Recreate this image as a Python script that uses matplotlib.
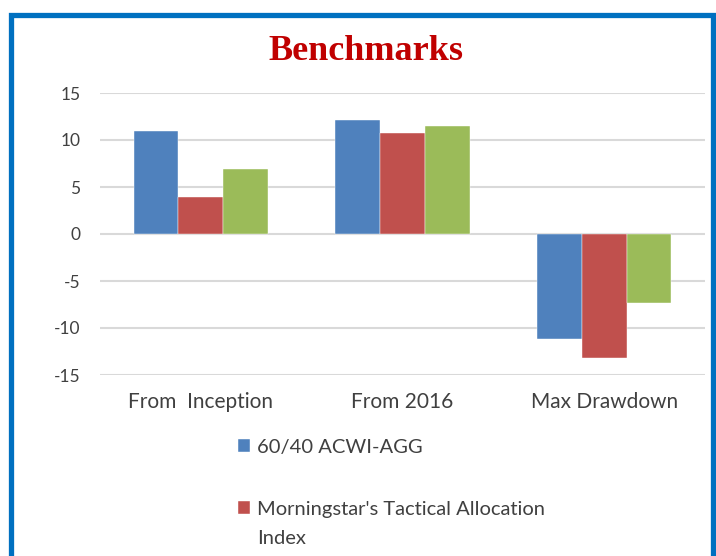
import numpy as np
import matplotlib.pyplot as plt
from matplotlib.patches import Rectangle

# data
categories = ["From  Inception", "From 2016", "Max Drawdown"]
series_names = ["60/40 ACWI-AGG",
                "Morningstar's Tactical Allocation\nIndex",
                "_nolegend_"]  # third legend entry is cut off in the original
acwi_agg = [11.0, 12.1, -11.2]
tactical = [3.9, 10.75, -13.2]
moderate = [6.95, 11.5, -7.3]
yticks = [-15, -10, -5, 0, 5, 10, 15]

colors = ["#4F81BD", "#C0504D", "#9BBB59"]

fig = plt.figure(figsize=(7.16, 5.56), dpi=100)
ax = fig.add_axes([100 / 716, 1 - 375 / 556, 605 / 716, 282 / 556])

x = np.arange(len(categories))
width = 0.222
for i, vals in enumerate([acwi_agg, tactical, moderate]):
    ax.bar(x + (i - 1) * width, vals, width, color=colors[i],
           label=series_names[i], zorder=3, edgecolor="white", linewidth=0.3)

ax.set_xlim(-0.5, 2.5)
ax.set_ylim(-15, 15)
ax.set_yticks(yticks)
ax.set_yticklabels([str(v) for v in yticks])
ax.set_xticks(x)
ax.set_xticklabels(categories)
ax.grid(axis="y", color="#D9D9D9", linewidth=1.5, zorder=0)
for s in ax.spines.values():
    s.set_visible(False)
ax.tick_params(length=0, colors="#404040", labelsize=15, labelfontfamily="Lato")
ax.tick_params(axis="y", pad=14, labelsize=12.5)
ax.tick_params(axis="x", pad=12)

fig.text(366 / 716, 1 - 52 / 556, "Benchmarks", ha="center", va="center",
         fontsize=26, fontweight="bold", color="#C00000",
         family="Liberation Serif")

leg = fig.legend(loc="upper left", bbox_to_anchor=(228 / 716, 1 - 429 / 556),
                 frameon=False, ncol=1, handlelength=0.6, handleheight=0.6,
                 handletextpad=0.35, labelspacing=2.25, borderpad=0,
                 prop={"family": "Lato", "size": 14.5}, labelcolor="#404040")
for t in leg.get_texts():
    t.set_linespacing(1.85)
# put the colour square next to the first line of a wrapped label
for col in leg._legend_handle_box.get_children():
    for row in col.get_children():
        row.align = "top"

# blue frame around the chart
fig.patches.append(Rectangle((10.5 / 716, -0.1), 702 / 716, 1.1 - 14.5 / 556,
                             transform=fig.transFigure, fill=False,
                             edgecolor="#0070C0", linewidth=3.8))

fig.savefig("out.png", dpi=100)
